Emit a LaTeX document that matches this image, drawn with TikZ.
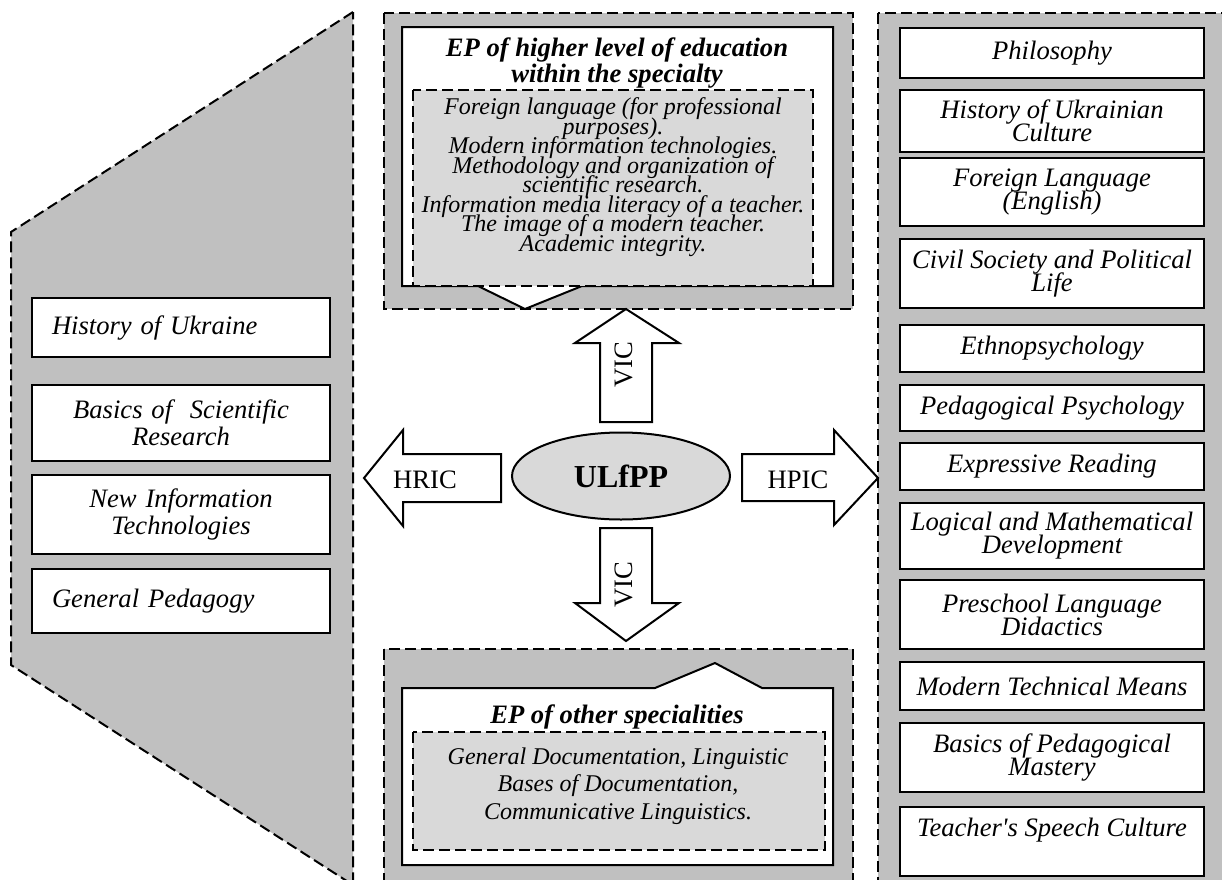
\documentclass[tikz,border=0pt]{standalone}
\usepackage{fontspec}
\setmainfont{Liberation Serif}
\usetikzlibrary{shapes.geometric}
\definecolor{panelgray}{HTML}{C0C0C0}
\definecolor{innergray}{HTML}{D9D9D9}
\newcommand\tightlines{\lineskiplimit-20pt\relax}
\tikzset{
  panel/.style={draw, dash pattern=on 5.5pt off 2.5pt, line width=1pt, fill=panelgray},
  innerbox/.style={draw, dash pattern=on 5.5pt off 2.5pt, line width=1pt, fill=innergray},
  frame/.style={draw, line width=1pt, fill=white},
  blockarrow/.style={draw, line width=1pt, fill=white, line join=miter},
  lbox/.style={frame, minimum width=149pt, text width=129pt, inner xsep=10pt, inner ysep=0pt,
    font=\fontsize{13.3}{13.5}\selectfont\itshape\tightlines},
  rbox/.style={frame, minimum width=152pt, inner sep=0pt, align=center,
    font=\fontsize{13.3}{11.5}\selectfont\itshape\tightlines},
  title/.style={align=center, font=\fontsize{13.3}{13}\selectfont\bfseries\itshape\tightlines},
  arrowlabel/.style={font=\fontsize{13.3}{13.3}\selectfont}
}
\begin{document}
\begin{tikzpicture}[x=0.5pt, y=-0.5pt]
  \useasboundingbox (0,0) rectangle (1222,879);
  \clip (0,0) rectangle (1222,879);

  \draw[panel] (353,12) -- (11,232) -- (11,665) -- (353,885) -- cycle;
  \draw[panel] (384,13) rectangle (853,309);
  \draw[panel] (384,649) rectangle (853,900);
  \draw[panel] (878,13) rectangle (1240,900);

  \node[lbox, align=left, minimum height=29.5pt] (hist) at (181,327.5) {History of Ukraine};
  \node[lbox, align=center, minimum height=38pt] (basics) at (181,423) {Basics of\ \ Scientific\\Research};
  \node[lbox, align=center, minimum height=39.5pt] (newinf) at (181,514.5) {New Information\\Technologies};
  \node[lbox, align=left, minimum height=32pt] (genped) at (181,601) {General Pedagogy};

  \draw[frame] (402,27) -- (833,27) -- (833,286) -- (582,286) -- (525,309) -- (478,286) -- (402,286) -- cycle;
  \node[title] (toptitle) at (617,63) {EP of higher level of education\\within the specialty};
  \draw[innerbox] (413,90) rectangle (813,286);
  \node[align=center, font=\fontsize{12}{9.75}\selectfont\itshape\tightlines] (toplist) at (613,177)
    {Foreign language (for professional\\purposes).\\Modern information technologies.\\Methodology and organization of\\scientific research.\\Information media literacy of a teacher.\\The image of a modern teacher.\\Academic integrity.};

  \draw[frame] (402,865) -- (402,688) -- (655,688) -- (715,663) -- (762,688) -- (833,688) -- (833,865) -- cycle;
  \node[title] (bottitle) at (617,717) {EP of other specialities};
  \draw[innerbox] (413,732) rectangle (825,850);
  \node[align=center, font=\fontsize{12}{13.75}\selectfont\itshape] (botlist) at (618,786)
    {General Documentation, Linguistic\\Bases of Documentation,\\Communicative Linguistics.};

  \node[ellipse, draw, line width=1pt, fill=innergray, minimum width=109pt, minimum height=43.5pt,
    font=\fontsize{16}{16}\selectfont\bfseries] (ulfpp) at (621,476) {ULfPP};

  \draw[blockarrow] (626,309) -- (679,343) -- (652,343) -- (652,422) -- (600,422) -- (600,343) -- (575,343) -- cycle;
  \node[arrowlabel, rotate=90] (vicup) at (624,365) {VIC};
  \draw[blockarrow] (600,528) -- (652,528) -- (652,603) -- (679,603) -- (626,641) -- (575,603) -- (600,603) -- cycle;
  \node[arrowlabel, rotate=90] (vicdown) at (624,585) {VIC};
  \draw[blockarrow] (501,454) -- (501,502) -- (403,502) -- (403,526) -- (364,478) -- (403,430) -- (403,454) -- cycle;
  \node[arrowlabel] (hric) at (425,480) {HRIC};
  \draw[blockarrow] (742,454) -- (834,454) -- (834,430) -- (878,478) -- (834,525) -- (834,501) -- (742,501) -- cycle;
  \node[arrowlabel] (hpic) at (798,480) {HPIC};

  \foreach \t/\b/\txt [count=\i] in {28/78/Philosophy, 90/152/{History of Ukrainian\\Culture},
      158/226/{Foreign Language\\(English)}, 239/308/{Civil Society and Political\\Life},
      325/372/Ethnopsychology, 385/431/Pedagogical Psychology, 443/490/Expressive Reading,
      503/569/{Logical and Mathematical\\Development}, 580/649/{Preschool Language\\Didactics},
      662/710/Modern Technical Means, 723/792/{Basics of Pedagogical\\Mastery}}
    \node[rbox, minimum height={(\b-\t)*0.5pt}] (r\i) at (1052,{(\t+\b)/2}) {\txt};
  \node[rbox, minimum height=34.5pt, text depth=14pt] (r12) at (1052,841.5) {Teacher\textquotesingle s Speech Culture};
\end{tikzpicture}
\end{document}
